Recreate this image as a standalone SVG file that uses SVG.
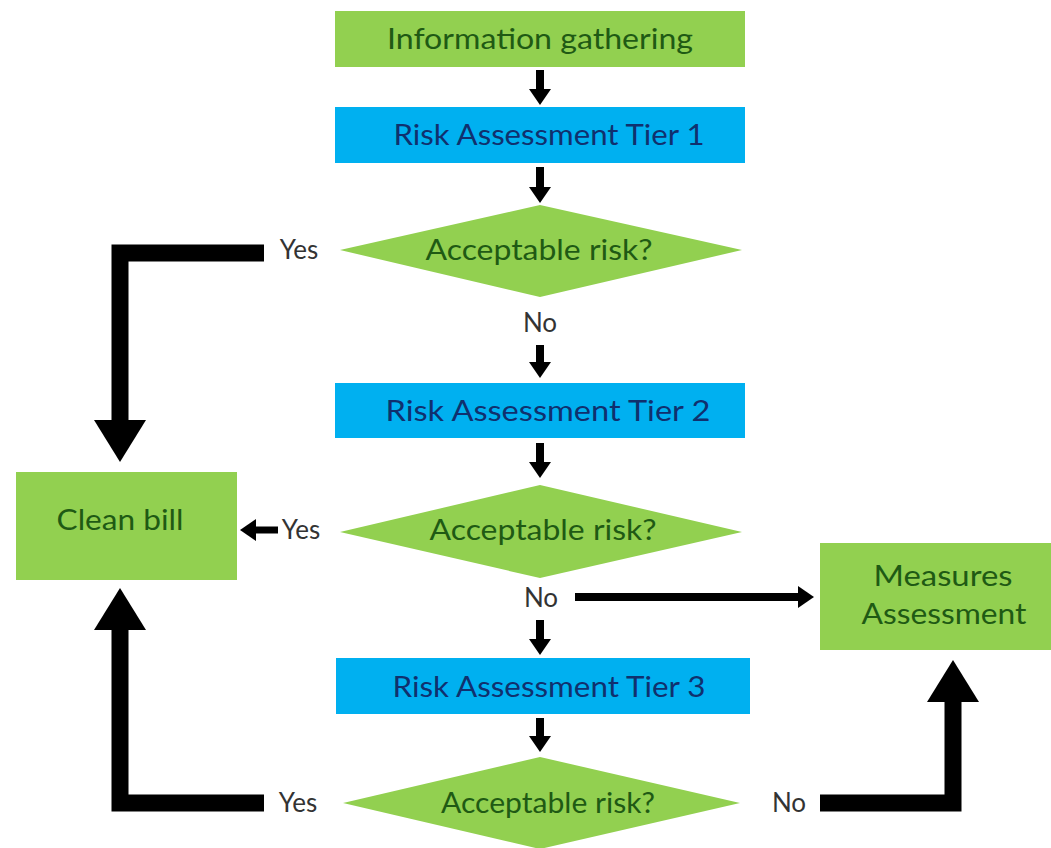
<svg xmlns="http://www.w3.org/2000/svg" width="1051" height="848" viewBox="0 0 1051 848">
<style>
.g{fill:#92d050}
.b{fill:#00b0f0}
text{font-family:Lato,"Liberation Sans",sans-serif;font-size:26px;text-anchor:middle}
.tg{fill:#1f5a14;font-size:28px}
.tb{fill:#10306e;font-size:28px}
.lb{fill:#333333}
.sm{stroke:#000;stroke-width:8;fill:none}
.bg{stroke:#000;stroke-width:17;fill:none;stroke-linejoin:miter}
</style>
<defs>
<marker id="hs" markerUnits="userSpaceOnUse" markerWidth="16" markerHeight="22" viewBox="0 0 16 22" refX="1" refY="11" orient="auto"><path d="M0,0 L16,11 L0,22 z" fill="#000"/></marker>
<marker id="hb" markerUnits="userSpaceOnUse" markerWidth="42" markerHeight="52" viewBox="0 0 42 52" refX="1" refY="26" orient="auto"><path d="M0,0 L42,26 L0,52 z" fill="#000"/></marker>
</defs>
<g id="n_info"><rect class="g" x="335" y="11" width="410" height="56"/><text class="tg" x="540" y="49" textLength="306" lengthAdjust="spacingAndGlyphs">Information gathering</text></g>
<g id="n_tier1"><rect class="b" x="335" y="107" width="410" height="56"/><text class="tb" x="549" y="145" textLength="311" lengthAdjust="spacingAndGlyphs">Risk Assessment Tier 1</text></g>
<g id="n_d1"><polygon class="g" points="340,250 540,205 742,250 540,297"/><text class="tg" x="539" y="260" textLength="227" lengthAdjust="spacingAndGlyphs">Acceptable risk?</text></g>
<g id="n_tier2"><rect class="b" x="335" y="383" width="410" height="55"/><text class="tb" x="548" y="421" textLength="325" lengthAdjust="spacingAndGlyphs">Risk Assessment Tier 2</text></g>
<g id="n_d2"><polygon class="g" points="340,532 540,485 742,532 540,578"/><text class="tg" x="543" y="540" textLength="227" lengthAdjust="spacingAndGlyphs">Acceptable risk?</text></g>
<g id="n_clean"><rect class="g" x="16" y="472" width="221" height="108"/><text class="tg" x="120" y="530" textLength="127" lengthAdjust="spacingAndGlyphs">Clean bill</text></g>
<g id="n_measures"><rect class="g" x="820" y="543" width="231" height="107"/><text class="tg" x="943" y="586" textLength="139" lengthAdjust="spacingAndGlyphs">Measures</text><text class="tg" x="944" y="624" textLength="165" lengthAdjust="spacingAndGlyphs">Assessment</text></g>
<g id="n_tier3"><rect class="b" x="336" y="658" width="414" height="56"/><text class="tb" x="549" y="697" textLength="313" lengthAdjust="spacingAndGlyphs">Risk Assessment Tier 3</text></g>
<g id="n_d3"><polygon class="g" points="343,803 540,757 740,803 540,849"/><text class="tg" x="548" y="813" textLength="214" lengthAdjust="spacingAndGlyphs">Acceptable risk?</text></g>
<g id="connectors">
<line class="sm" x1="540" y1="70" x2="540" y2="90" marker-end="url(#hs)"/>
<line class="sm" x1="540" y1="167" x2="540" y2="188" marker-end="url(#hs)"/>
<line class="sm" x1="540" y1="345" x2="540" y2="363" marker-end="url(#hs)"/>
<line class="sm" x1="540" y1="443" x2="540" y2="463" marker-end="url(#hs)"/>
<line class="sm" x1="540" y1="620" x2="540" y2="640" marker-end="url(#hs)"/>
<line class="sm" x1="540" y1="718" x2="540" y2="737" marker-end="url(#hs)"/>
<line class="sm" x1="575" y1="597" x2="799" y2="597" marker-end="url(#hs)"/>
<line stroke="#000" stroke-width="7" x1="278" y1="530" x2="255" y2="530" marker-end="url(#hs)"/>
<path class="bg" d="M264,253 H120 V421" marker-end="url(#hb)"/>
<path class="bg" d="M264,803 H120 V629" marker-end="url(#hb)"/>
<path class="bg" d="M820,803 H953 V701" marker-end="url(#hb)"/>
<text class="lb" x="299" y="259">Yes</text>
<text class="lb" x="540" y="332">No</text>
<text class="lb" x="301" y="539">Yes</text>
<text class="lb" x="541" y="607">No</text>
<text class="lb" x="298" y="812">Yes</text>
<text class="lb" x="789" y="812">No</text>
</g>
</svg>
